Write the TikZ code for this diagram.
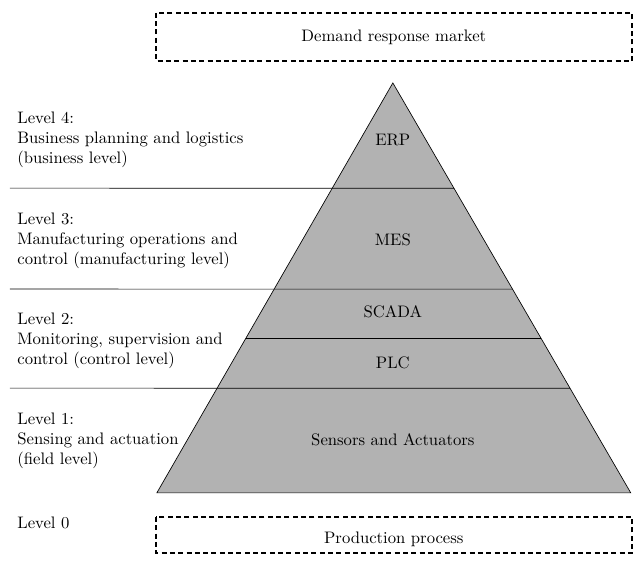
\documentclass[tikz,border=0pt]{standalone}
\usepackage{amsmath}
\usepackage{tikz}
\usetikzlibrary{calc}

\begin{document}
\begin{tikzpicture}[scale=1,baseline,
		dashbox/.style={draw,very thick,densely dashed},
		lvltext/.style={anchor=north west,align=left,inner sep=0pt},
		layer/.style={}]
		\useasboundingbox (0,0) rectangle (13.40,-11.92);
		% outer boxes
		\draw [dashbox] (3.29,-0.27) rectangle (13.34,-1.29);
		\node (market) at (8.31,-0.78) {Demand response market};
		\draw [dashbox] (3.29,-10.91) rectangle (13.34,-11.67);
		\node (process) at (8.31,-11.39) {Production process};
		% pyramid
		\coordinate (apex) at (8.29,-1.75);
		\coordinate (bl) at (3.31,-10.40);
		\coordinate (br) at (13.31,-10.40);
		\filldraw [fill=gray!60] (apex)--(bl)--(br)--cycle;
		\draw (0.21,-3.97)--($(apex)!0.257!(br)$);
		\draw (0.21,-6.10)--($(apex)!0.503!(br)$);
		\draw ($(apex)!0.622!(bl)$)--($(apex)!0.622!(br)$);
		\draw (0.21,-8.19)--($(apex)!0.745!(br)$);
		\node [layer] (erp) at (8.29,-2.95) {ERP};
		\node [layer] (mes) at (8.29,-5.06) {MES};
		\node [layer] (scada) at (8.29,-6.58) {SCADA};
		\node [layer] (plc) at (8.29,-7.66) {PLC};
		\node [layer] (field) at (8.29,-9.28) {Sensors and Actuators};
		% level descriptions
		\node [lvltext] (lvl4) at (0.36,-2.36) {Level 4:\\Business planning and logistics\\(business level)};
		\node [lvltext] (lvl3) at (0.36,-4.49) {Level 3:\\Manufacturing operations and\\control (manufacturing level)};
		\node [lvltext] (lvl2) at (0.36,-6.60) {Level 2:\\Monitoring, supervision and\\control (control level)};
		\node [lvltext] (lvl1) at (0.36,-8.71) {Level 1:\\Sensing and actuation\\(field level)};
		\node [lvltext] (lvl0) at (0.36,-10.91) {Level 0};
    \end{tikzpicture}
\end{document}
